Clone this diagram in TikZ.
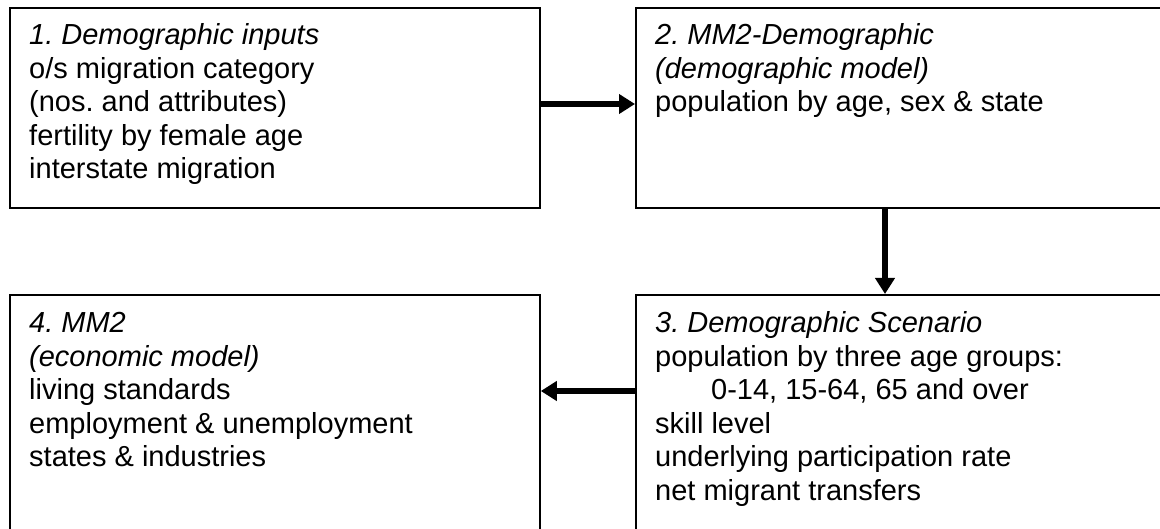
\documentclass[tikz,border=0pt]{standalone}
\usepackage{fontspec}
\setmainfont{Liberation Sans}
\usetikzlibrary{arrows.meta}
\frenchspacing

\begin{document}
\begin{tikzpicture}[x=1pt, y=-1pt,
  box/.style={draw, line width=1.8pt, anchor=north west, inner sep=0pt},
  boxtext/.style={anchor=base west, inner sep=0pt, font=\fontsize{29}{33.5}\selectfont},
  flow/.style={line width=5.5pt, -{Triangle[length=16pt, width=19pt]}}]

\useasboundingbox (0,0) rectangle (1160,529);
\clip (0,0) rectangle (1160,529);

% Boxes (right and bottom edges run past the frame)
\node[box, minimum width=530pt, minimum height=200pt] (b1) at (9,7) {};
\node[box, minimum width=560pt, minimum height=200pt] (b2) at (635,7) {};
\node[box, minimum width=560pt, minimum height=260pt] (b3) at (635,294) {};
\node[box, minimum width=530pt, minimum height=260pt] (b4) at (9,294) {};

% Box texts
\node[boxtext] (t1) at (29,45) {\parbox[t]{500pt}{\textit{1. Demographic inputs}\\
  o/s migration category\\ (nos. and attributes)\\ fertility by female age\\ interstate migration}};
\node[boxtext] (t2) at (655,45) {\parbox[t]{500pt}{\textit{2. MM2-Demographic}\\
  \textit{(demographic model)}\\ population by age, sex \& state}};
\node[boxtext] (t3) at (655,333) {\parbox[t]{500pt}{\textit{3. Demographic Scenario}\\
  population by three age groups:\\ \hspace*{56pt}0-14, 15-64, 65 and over\\ skill level\\
  underlying participation rate\\ net migrant transfers}};
\node[boxtext] (t4) at (29,333) {\parbox[t]{500pt}{\textit{4. MM2}\\
  \textit{(economic model)}\\ living standards\\ employment \& unemployment\\ states \& industries}};

% Arrows
\coordinate (fwd) at (0,104);
\coordinate (down) at (885,0);
\coordinate (back) at (0,391);
\draw[flow] (b1.east |- fwd) -- (b2.west |- fwd);
\draw[flow] (b2.south -| down) -- (b3.north -| down);
\draw[flow] (b3.west |- back) -- (b4.east |- back);

\end{tikzpicture}
\end{document}
